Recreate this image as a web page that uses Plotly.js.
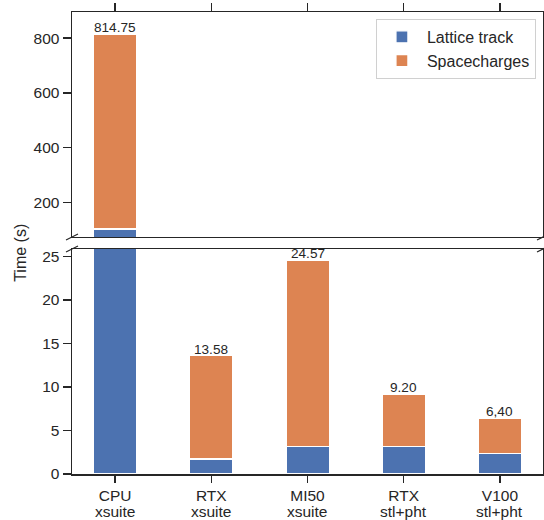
<!DOCTYPE html>
<html>
<head>
<meta charset="utf-8">
<script src="https://cdn.plot.ly/plotly-3.0.1.min.js"></script>
<style>html,body{margin:0;padding:0;background:#fff;}#chart{width:544px;height:520px;}</style>
</head>
<body>
<div id="chart"></div>
<script>
// ---- data ----
const categories = ["CPU xsuite", "RTX xsuite", "MI50 xsuite", "RTX stl+pht", "V100 stl+pht"];
const labelLine1 = ["CPU", "RTX", "MI50", "RTX", "V100"];
const labelLine2 = ["xsuite", "xsuite", "xsuite", "stl+pht", "stl+pht"];
const latticeTrack = [102, 1.72, 3.15, 3.15, 2.33];
const totals = [814.75, 13.58, 24.57, 9.20, 6.40];
const totalLabels = ["814.75", "13.58", "24.57", "9.20", "6,40"];
const spacecharges = totals.map((t, i) => t - latticeTrack[i]);
const seriesNames = ["Lattice track", "Spacecharges"];

const blue = "#4C72B0", orange = "#DD8452", ink = "#262626";
const lowMax = 25.85, highMin = 73, highMax = 896;
const FONT = "Liberation Sans, Arial, sans-serif";

function barTrace(name, y, color, xa, ya, show) {
  return {
    type: "bar", name: name, x: categories, y: y,
    xaxis: xa, yaxis: ya, width: 0.45, showlegend: show, legendgroup: name,
    marker: {color: color, line: {color: "#ffffff", width: 1.3}},
    hoverinfo: "skip"
  };
}

const data = [
  barTrace(seriesNames[0], latticeTrack, blue, "x", "y", true),
  barTrace(seriesNames[1], spacecharges, orange, "x", "y", true),
  barTrace(seriesNames[0], latticeTrack, blue, "x2", "y2", false),
  barTrace(seriesNames[1], spacecharges, orange, "x2", "y2", false)
];

const annotations = totals.map((t, i) => {
  const high = t > lowMax;
  return {
    x: categories[i], y: t, xref: high ? "x2" : "x", yref: high ? "y2" : "y",
    text: totalLabels[i], showarrow: false, xanchor: "center", yanchor: "bottom",
    yshift: -3, font: {family: FONT, size: 13.6, color: ink}
  };
});
// second line of each category label
labelLine2.forEach((s, i) => {
  annotations.push({
    x: categories[i], xref: "x", yref: "paper", y: 0, text: s,
    showarrow: false, xanchor: "center", yanchor: "middle", yshift: -37,
    borderpad: 0,
    font: {family: FONT, size: 15.5, color: ink}
  });
});
annotations.push({
  xref: "paper", yref: "paper", x: -0.108, y: 0.479, text: "Time (s)",
  textangle: -90, showarrow: false, xanchor: "center", yanchor: "middle",
  font: {family: FONT, size: 16, color: ink}
});

// break marks
const shapes = [];
[[0, 0.513], [1, 0.513], [0, 0.487], [1, 0.487]].forEach(p => {
  shapes.push({
    type: "line", xref: "paper", yref: "paper",
    xsizemode: "pixel", ysizemode: "pixel", xanchor: p[0], yanchor: p[1],
    x0: -6, x1: 6, y0: -3, y1: 3, line: {color: ink, width: 1.2}
  });
});

const axisCommon = {
  showline: true, mirror: true, linecolor: ink, linewidth: 1.5,
  showgrid: false, zeroline: false, ticks: "outside", ticklen: 8,
  tickwidth: 1.5, tickcolor: ink,
  tickfont: {family: FONT, size: 15.5, color: ink}
};

const layout = {
  width: 544, height: 520,
  margin: {l: 72, r: 1, t: 12, b: 46},
  paper_bgcolor: "#ffffff", plot_bgcolor: "#ffffff",
  barmode: "stack", bargap: 0,
  font: {family: FONT, color: ink},
  xaxis: Object.assign({}, axisCommon, {
    domain: [0, 1], anchor: "y", type: "category",
    range: [-0.4475, 4.4475], side: "bottom", ticklen: 7,
    tickmode: "array", tickvals: categories, ticktext: labelLine1
  }),
  xaxis2: Object.assign({}, axisCommon, {
    domain: [0, 1], anchor: "y2", type: "category", matches: "x",
    range: [-0.4475, 4.4475], side: "top", showticklabels: false
  }),
  yaxis: Object.assign({}, axisCommon, {
    domain: [0, 0.487], anchor: "x", range: [0, lowMax],
    tick0: 0, dtick: 5
  }),
  yaxis2: Object.assign({}, axisCommon, {
    domain: [0.513, 1], anchor: "x2", range: [highMin, highMax],
    tick0: 0, dtick: 200
  }),
  legend: {
    x: 0.985, y: 0.985, xanchor: "right", yanchor: "top",
    bgcolor: "#ffffff", bordercolor: "#d0d0d0", borderwidth: 1,
    font: {family: FONT, size: 16, color: ink}, tracegroupgap: 0,
    itemwidth: 40
  },
  annotations: annotations,
  shapes: shapes
};

Plotly.newPlot("chart", data, layout, {staticPlot: true, displayModeBar: false});
</script>
</body>
</html>
